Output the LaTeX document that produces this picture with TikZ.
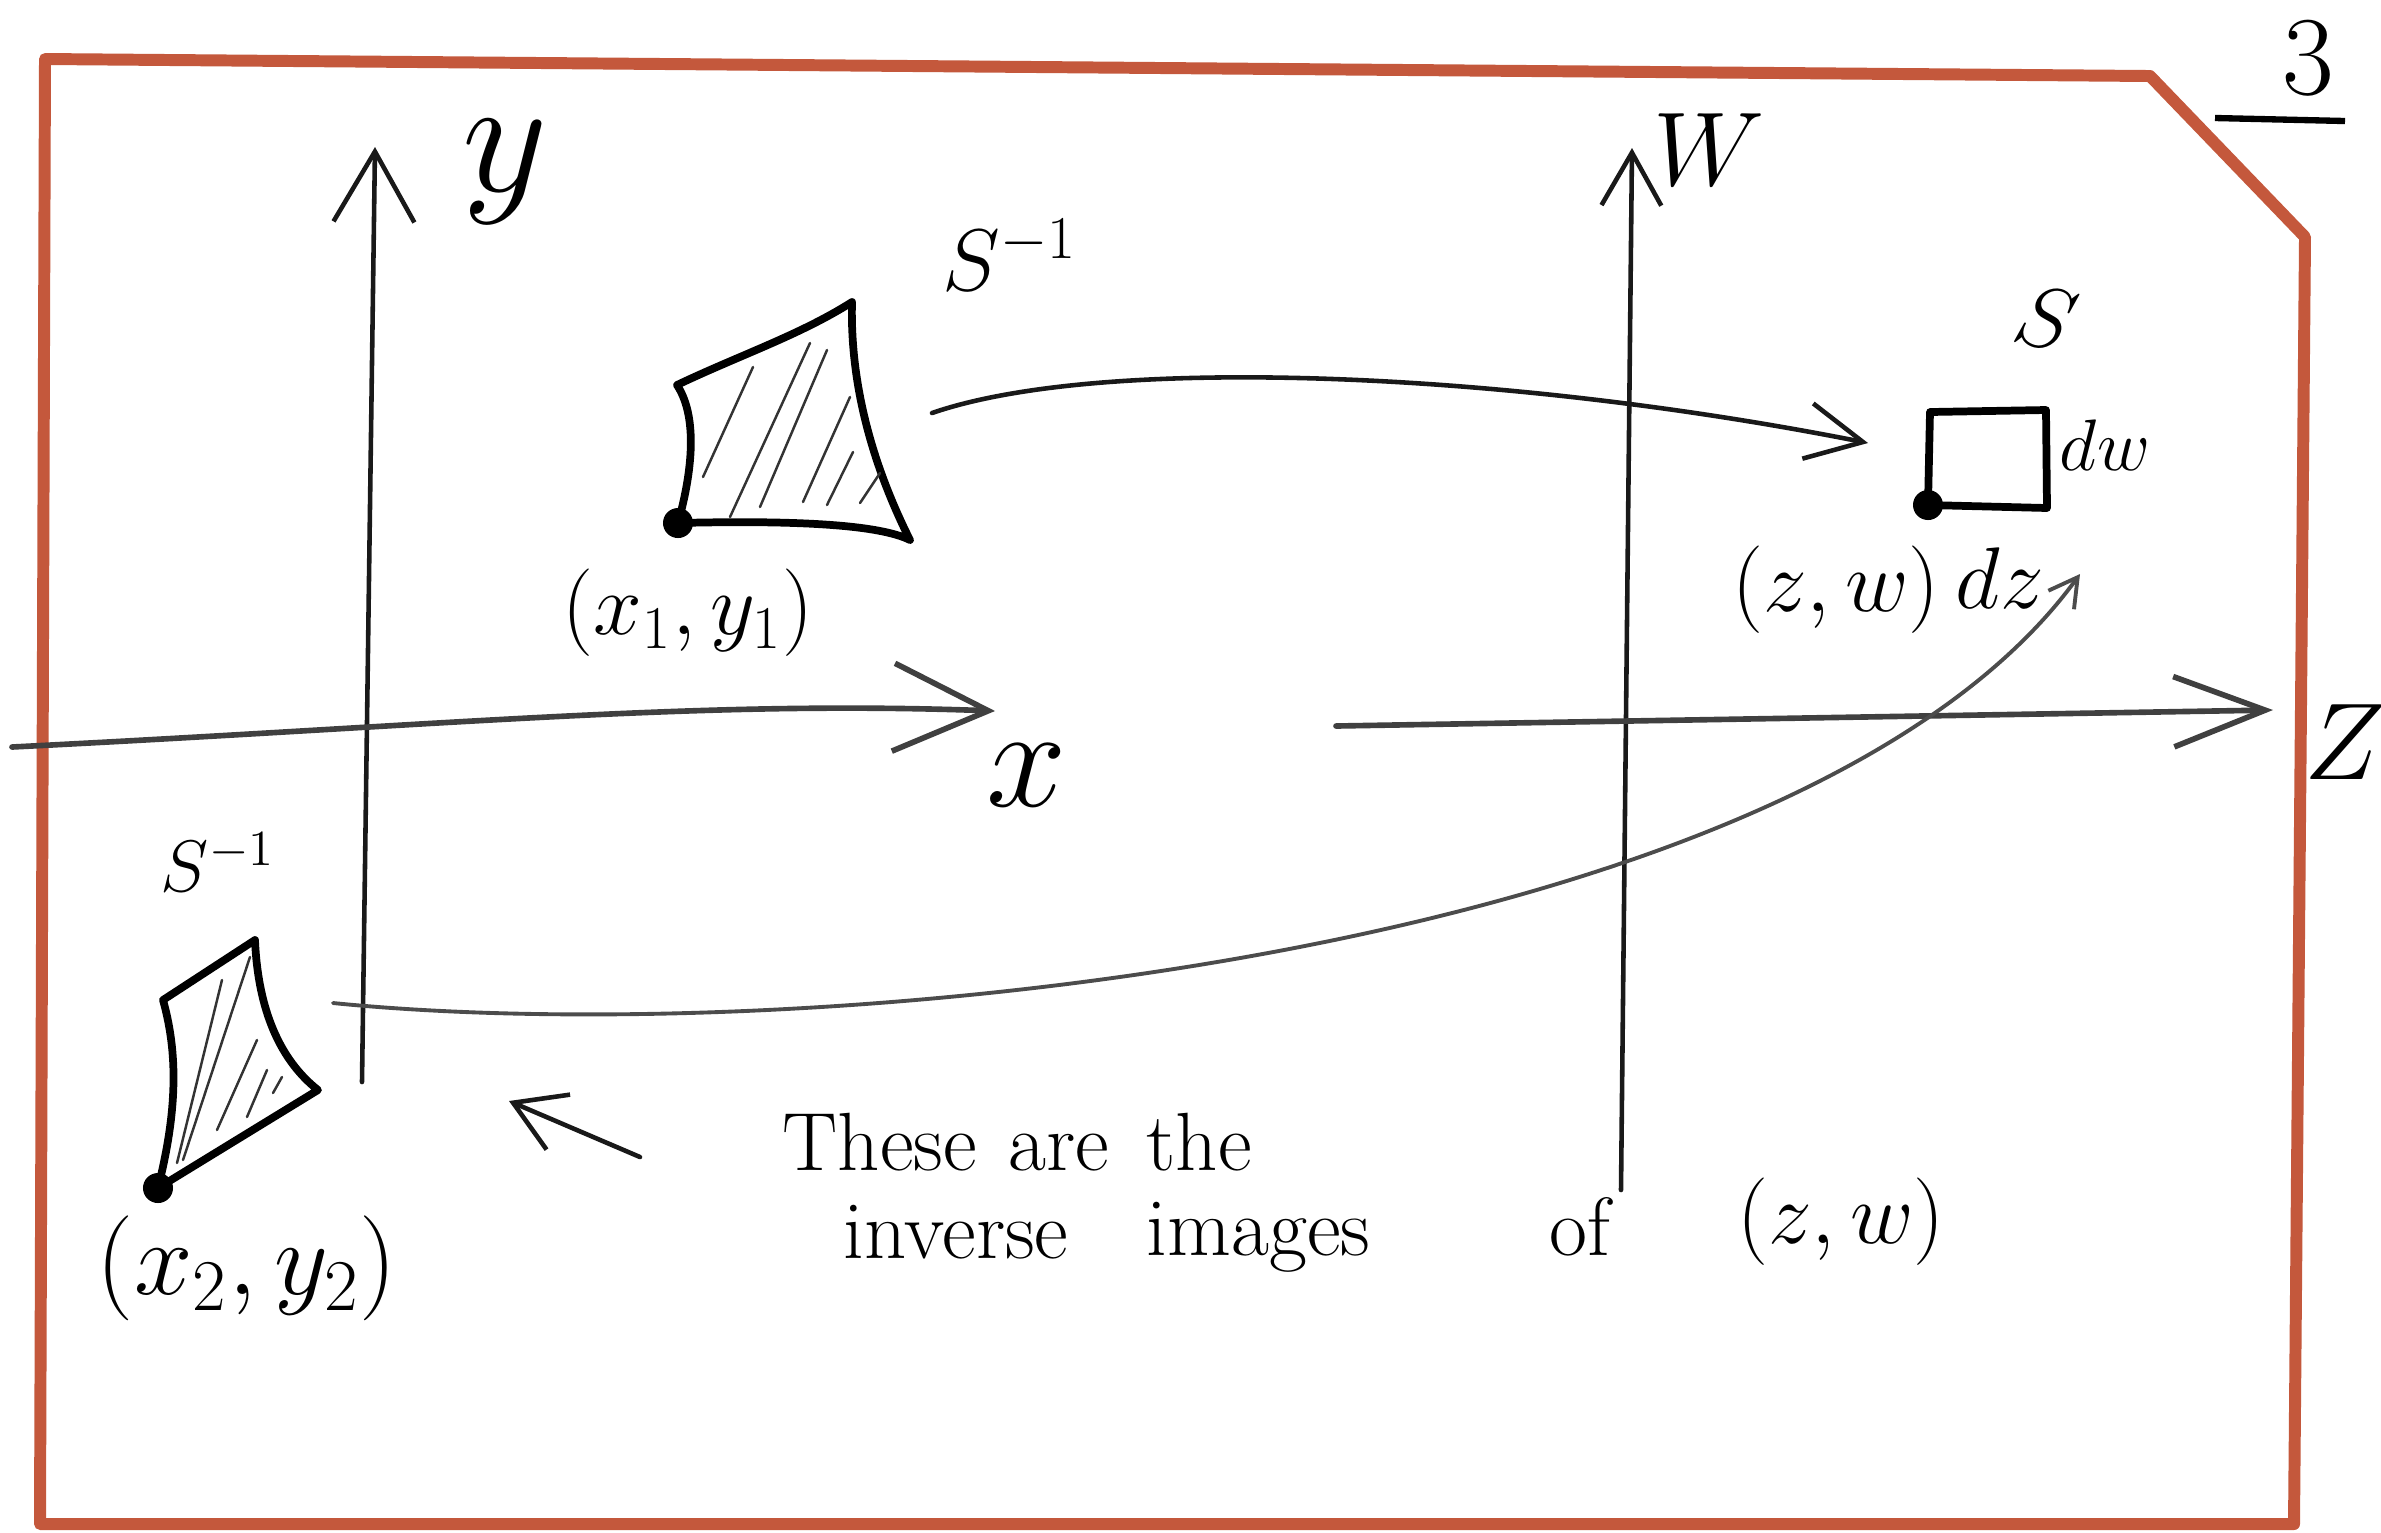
\documentclass[tikz,border=0pt]{standalone}
\usetikzlibrary{arrows.meta}
\definecolor{frame}{RGB}{196,88,60}
\begin{document}
\begin{tikzpicture}[x=0.01cm,y=-0.01cm,
  ax/.style={line width=1.3pt, black!90, line cap=round},
  quad/.style={line width=2.2pt, line join=round, line cap=round},
  hatch/.style={line width=0.7pt, black!80, line cap=round},
  pt/.style={circle, fill=black, inner sep=0pt, minimum size=0.3cm},
  lab/.style={inner sep=0pt, font=\fontsize{24}{28}\selectfont},
  word/.style={inner sep=0pt, anchor=base west, font=\fontsize{23.5}{28}\selectfont}]
\useasboundingbox (0,0) rectangle (2381,1532);
\fill[white] (0,0) rectangle (2381,1532);
% frame
\draw[line width=3.4pt, frame, line join=round] (45,59) -- (2150,76) -- (2305,237) -- (2294,1524) -- (40,1524) -- cycle;
% page number
\node[lab, font=\fontsize{32}{36}\selectfont] (pg) at (2308,58) {3};
\draw[line width=1.8pt] (2215,118) -- (2345,121);
% axes
\coordinate (yb) at (362,1082); \coordinate (yt) at (375,147);
\coordinate (wb) at (1621,1190); \coordinate (wt) at (1632,148);
\coordinate (xl) at (12,747); \coordinate (xt) at (995,711);
\coordinate (za) at (1336,726); \coordinate (zt) at (2273,710);
\draw[ax, -{Straight Barb[length=20pt,width=23pt]}] (yb) -- (yt);
\draw[ax, -{Straight Barb[length=15pt,width=17pt]}] (wb) -- (wt);
\draw[ax, black!75, line width=1.6pt, -{Straight Barb[length=27pt,width=25pt]}] (xl) .. controls (450,725) and (700,700) .. (xt);
\draw[ax, black!75, line width=1.6pt, -{Straight Barb[length=26pt,width=20pt]}] (za) -- (zt);
\node[lab] (ly) at (505,172) {\scalebox{1.9}{$y$}};
\node[lab] (lw) at (1709,150) {\scalebox{1.2}{$W$}};
\node[lab] (lx) at (1027,775) {\scalebox{1.65}{$x$}};
\node[lab] (lz) at (2345,742) {\scalebox{1.25}{$Z$}};
% upper preimage
\coordinate (A) at (678,523); \coordinate (B) at (677,385);
\coordinate (C) at (852,302); \coordinate (D) at (910,540);
\draw[quad] (B) .. controls (700,420) and (690,480) .. (A)
  .. controls (800,520) and (880,525) .. (D)
  .. controls (870,460) and (850,380) .. (C)
  .. controls (800,335) and (740,355) .. (B);
\draw[hatch] (703,477) -- (753,367);
\draw[hatch] (730,517) -- (810,343);
\draw[hatch] (760,507) -- (827,350);
\draw[hatch] (803,502) -- (850,397);
\draw[hatch] (827,505) -- (853,452);
\draw[hatch] (860,503) -- (880,473);
\node[pt] (p1) at (A) {};
\node[lab] (l1) at (688,613) {$(x_1,y_1)$};
\node[lab] (s1) at (1010,255) {$S^{-1}$};
% lower preimage
\coordinate (P) at (158,1188); \coordinate (Q) at (163,1000);
\coordinate (R) at (255,940); \coordinate (T) at (318,1090);
\draw[quad] (P) .. controls (175,1120) and (180,1060) .. (Q)
  -- (R) .. controls (258,1010) and (280,1060) .. (T) -- cycle;
\draw[hatch] (177,1163) -- (222,980);
\draw[hatch] (183,1160) -- (250,957);
\draw[hatch] (217,1130) -- (257,1040);
\draw[hatch] (247,1117) -- (267,1070);
\draw[hatch] (273,1093) -- (282,1077);
\node[pt] (p2) at (P) {};
\node[lab] (l2) at (247,1268) {\scalebox{1.2}{$(x_2,y_2)$}};
\node[lab, font=\fontsize{22}{26}\selectfont] (s2) at (218,862) {$S^{-1}$};
% image box
\coordinate (E) at (1928,505); \coordinate (F) at (1930,412);
\coordinate (G) at (2046,410); \coordinate (H) at (2047,508);
\draw[quad] (E) -- (F) -- (G) -- (H) -- cycle;
\node[pt] (p3) at (E) {};
\node[lab] (zw1) at (1836,590) {$(z,w)$};
\node[lab, font=\fontsize{23}{27}\selectfont] (dz) at (2000,578) {$dz$};
\node[lab, font=\fontsize{22}{26}\selectfont] (dw) at (2105,445) {$dw$};
\node[lab, rotate=-15] (s3) at (2046,318) {$S$};
% mapping arrows
\coordinate (a1s) at (932,413); \coordinate (a1e) at (1868,443);
\draw[ax, -{Straight Barb[length=16pt,width=16pt]}] (a1s) .. controls (1100,355) and (1500,370) .. (a1e);
\coordinate (a2s) at (333,1003); \coordinate (a2e) at (2080,574);
\draw[ax, black!70, line width=1.1pt, -{Straight Barb[length=8pt,width=9pt]}] (a2s) .. controls (800,1050) and (1800,960) .. (a2e);
% pointer arrow
\coordinate (sa1) at (640,1157); \coordinate (sa2) at (509,1101);
\draw[ax, -{Straight Barb[length=14pt,width=17pt]}] (sa1) -- (sa2);
% note
\node[word] (w1) at (782,1170) {These};
\node[word] (w2) at (1008,1170) {are};
\node[word] (w3) at (1146,1170) {the};
\node[word] (w4) at (843,1258) {inverse};
\node[word] (w5) at (1146,1255) {images};
\node[word] (w6) at (1549,1255) {of};
\node[lab] (zw2) at (1841,1222) {$(z,w)$};
\end{tikzpicture}
\end{document}
